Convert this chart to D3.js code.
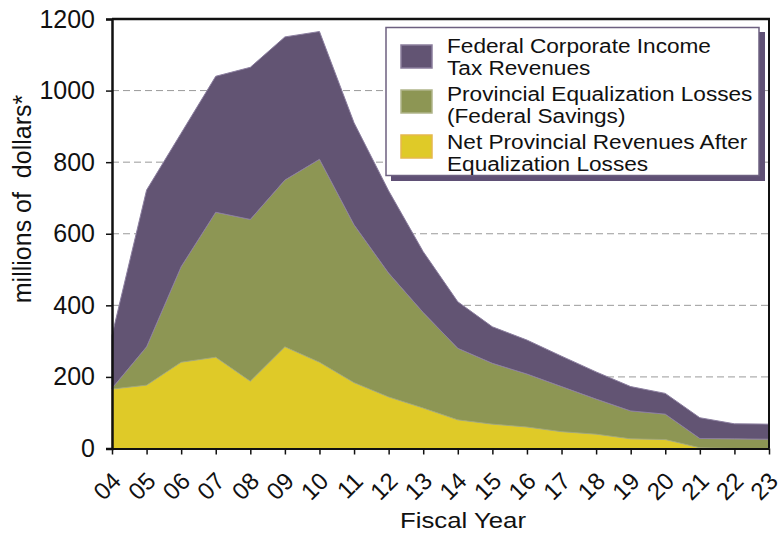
<!DOCTYPE html>
<html>
<head>
<meta charset="utf-8">
<script src="https://cdn.jsdelivr.net/npm/d3@7"></script>
<style>
  body { margin: 0; background: #fff; }
  svg { display: block; font-family: "Liberation Sans", Arial, sans-serif; }
</style>
</head>
<body>
<div id="chart"></div>
<script>
'use strict';

// fiscal years (x categories)
const years = ["04","05","06","07","08","09","10","11","12","13","14","15","16","17","18","19","20","21","22","23"];

// stacked components, millions of dollars
const netProvincial = [166,177,241,255,188,284,241,184,144,113,80,68,60,47,40,27,25,2,0,0];
const equalizationLosses = [2,107,267,405,452,466,567,441,346,267,200,170,148,126,98,78,71,26,27,26];
const federalCorporate = [148,438,373,380,425,400,357,285,230,170,130,102,95,85,76,68,58,58,42,42];

const yTicks = [0,200,400,600,800,1000,1200];

const legendLabels = [
  ["Federal Corporate Income", "Tax Revenues"],
  ["Provincial Equalization Losses", "(Federal Savings)"],
  ["Net Provincial Revenues After", "Equalization Losses"]
];

const width = 778, height = 534;
const plotL = 112, plotR = 769, plotT = 19, plotB = 448.5;

const colors = {
  fed: "#625473",
  eq: "#8d9654",
  net: "#dfca28"
};

let svg = d3.select("#chart").append("svg")
  .attr("width", width)
  .attr("height", height);

let x = d3.scalePoint().domain(years).range([plotL, plotR]);
let y = d3.scaleLinear().domain([0, 1200]).range([plotB, plotT]);

let table = years.map((yr, i) => ({
  year: yr,
  net: netProvincial[i],
  eq: equalizationLosses[i],
  fed: federalCorporate[i]
}));

let series = d3.stack().keys(["net", "eq", "fed"])(table);

// gridlines
svg.append("g")
  .selectAll("line")
  .data(yTicks.filter(d => d > 0 && d < 1200))
  .join("line")
  .attr("x1", plotL).attr("x2", plotR)
  .attr("y1", d => y(d)).attr("y2", d => y(d))
  .attr("stroke", "#9a9a9a")
  .attr("stroke-width", 1)
  .attr("stroke-dasharray", "7,4");

// areas
let area = d3.area()
  .x(d => x(d.data.year))
  .y0(d => y(d[0]))
  .y1(d => y(d[1]));

const edge = { net: "#e3d45a", eq: "#a3a878", fed: "#8c7fa0" };

svg.append("g")
  .selectAll("path")
  .data(series)
  .join("path")
  .attr("d", area)
  .attr("fill", d => colors[d.key])
  .attr("stroke", d => edge[d.key])
  .attr("stroke-width", 1);

// frame: top and right
svg.append("line")
  .attr("x1", plotL).attr("x2", plotR + 1)
  .attr("y1", plotT).attr("y2", plotT)
  .attr("stroke", "#111").attr("stroke-width", 2.5);
svg.append("line")
  .attr("x1", plotR).attr("x2", plotR)
  .attr("y1", plotT).attr("y2", plotB)
  .attr("stroke", "#111").attr("stroke-width", 2);

// y axis
let yAxis = svg.append("g")
  .attr("transform", `translate(${plotL},0)`)
  .call(d3.axisLeft(y).tickValues(yTicks).tickSize(6).tickPadding(11).tickFormat(d3.format("d")));
yAxis.select(".domain").attr("stroke", "#111").attr("stroke-width", 2.5);
yAxis.selectAll(".tick line").attr("stroke", "#111").attr("stroke-width", 1.5);
yAxis.selectAll("text")
  .attr("font-size", 25)
  .attr("fill", "#111")
  .attr("font-family", "Liberation Sans, Arial, sans-serif");

// x axis
let xAxis = svg.append("g")
  .attr("transform", `translate(0,${plotB})`)
  .call(d3.axisBottom(x).tickSize(6).tickSizeOuter(0));
xAxis.select(".domain").attr("stroke", "#111").attr("stroke-width", 2);
xAxis.selectAll(".tick line").attr("stroke", "#111").attr("stroke-width", 1.5);
xAxis.selectAll("text")
  .attr("font-size", 24)
  .attr("fill", "#111")
  .attr("font-family", "Liberation Sans, Arial, sans-serif")
  .attr("y", 0).attr("dy", 0)
  .attr("text-anchor", "end")
  .attr("transform", "translate(10,34) rotate(-45)");

// axis titles
svg.append("text")
  .attr("transform", "translate(31,199) rotate(-90)")
  .attr("text-anchor", "middle")
  .attr("font-size", 25)
  .attr("fill", "#111")
  .style("white-space", "pre")
  .text("millions of  dollars*");

svg.append("text")
  .attr("x", 463).attr("y", 528)
  .attr("text-anchor", "middle")
  .attr("font-size", 23)
  .attr("fill", "#111")
  .attr("transform", "translate(463,0) scale(1.12,1) translate(-463,0)")
  .text("Fiscal Year");

// legend
let lg = svg.append("g");
lg.append("rect")
  .attr("x", 391).attr("y", 32)
  .attr("width", 374).attr("height", 149)
  .attr("fill", "#5f5075");
lg.append("rect")
  .attr("x", 386).attr("y", 27.5)
  .attr("width", 373).attr("height", 148)
  .attr("fill", "#fff")
  .attr("stroke", "#6d6080")
  .attr("stroke-width", 1.5);

const swatchKeys = ["fed", "eq", "net"];
const swatchEdge = { fed: "#8a7d9c", eq: "#b0b58a", net: "#e6b84c" };
legendLabels.forEach((lines, i) => {
  let gy = 45 + i * 45;
  let k = swatchKeys[i];
  lg.append("rect")
    .attr("x", 401).attr("y", gy)
    .attr("width", 31).attr("height", 23)
    .attr("fill", colors[k])
    .attr("stroke", swatchEdge[k])
    .attr("stroke-width", 1.5);
  lines.forEach((t, j) => {
    lg.append("text")
      .attr("x", 0).attr("y", 0)
      .attr("transform", `translate(447,${53 + i * 48 + j * 22}) scale(1.16,1)`)
      .attr("font-size", 19.5)
      .attr("fill", "#111")
      .text(t);
  });
});
</script>
</body>
</html>
